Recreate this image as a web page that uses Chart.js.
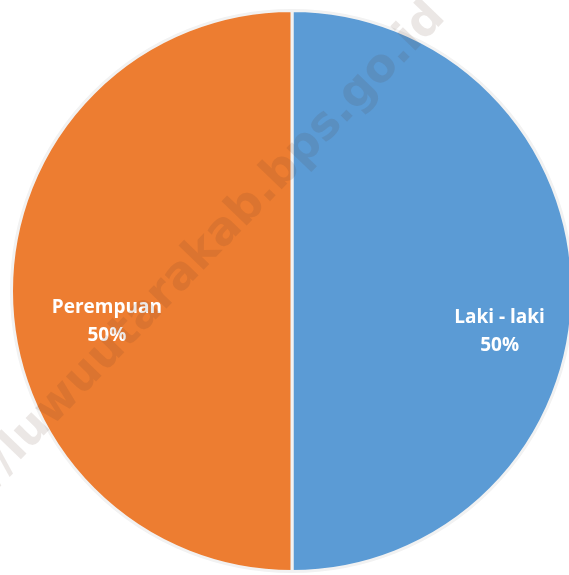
<!DOCTYPE html>
<html>
<head>
<meta charset="utf-8">
<script src="https://cdn.jsdelivr.net/npm/chart.js@4"></script>
<style>
  html, body { margin: 0; padding: 0; background: #fff; overflow: hidden; }
  #wrap { position: relative; width: 569px; height: 575px; overflow: hidden; }
  #pie { position: absolute; left: 0; top: 0; }
</style>
</head>
<body>
<div id="wrap"><canvas id="pie" width="584" height="582"></canvas></div>
<script>
const labels = ['Laki - laki', 'Perempuan'];
const values = [50, 50];
const colors = ['#5B9BD5', '#ED7D31'];

// label spots, as fractions of the radius from the centre
const labelSpots = [[0.74, 0.145], [-0.66, 0.11]];

const sliceLabels = {
  id: 'sliceLabels',
  afterDatasetsDraw(chart) {
    const { ctx } = chart;
    const meta = chart.getDatasetMeta(0);
    const total = values.reduce((a, b) => a + b, 0);
    ctx.save();
    ctx.fillStyle = '#ffffff';
    ctx.font = 'bold 19px "Open Sans"';
    ctx.textAlign = 'center';
    ctx.textBaseline = 'middle';
    meta.data.forEach((arc, i) => {
      const r = arc.outerRadius;
      const x = arc.x + labelSpots[i][0] * r;
      const y = arc.y + labelSpots[i][1] * r;
      const pct = Math.round(values[i] / total * 100) + '%';
      ctx.fillText(labels[i], x, y - 14);
      ctx.fillText(pct, x, y + 14);
    });
    ctx.restore();
  }
};

// faint site stamp across the chart
const stamp = {
  id: 'stamp',
  afterDraw(chart) {
    const { ctx } = chart;
    ctx.save();
    ctx.translate(438, 10);
    ctx.rotate(-46 * Math.PI / 180);
    ctx.font = 'bold 46px "DejaVu Sans"';
    ctx.fillStyle = 'rgba(90, 60, 40, 0.12)';
    ctx.textAlign = 'right';
    ctx.textBaseline = 'middle';
    ctx.fillText('https://luwuutarakab.bps.go.id', 0, 0);
    ctx.restore();
  }
};

new Chart(document.getElementById('pie'), {
  type: 'pie',
  data: {
    labels: labels,
    datasets: [{
      data: values,
      backgroundColor: colors,
      borderColor: '#f2f2f2',
      borderWidth: 3
    }]
  },
  options: {
    responsive: false,
    animation: false,
    layout: { padding: { left: 10, right: 10, top: 9, bottom: 9 } },
    plugins: {
      legend: { display: false },
      tooltip: { enabled: false }
    }
  },
  plugins: [sliceLabels, stamp]
});
</script>
</body>
</html>
